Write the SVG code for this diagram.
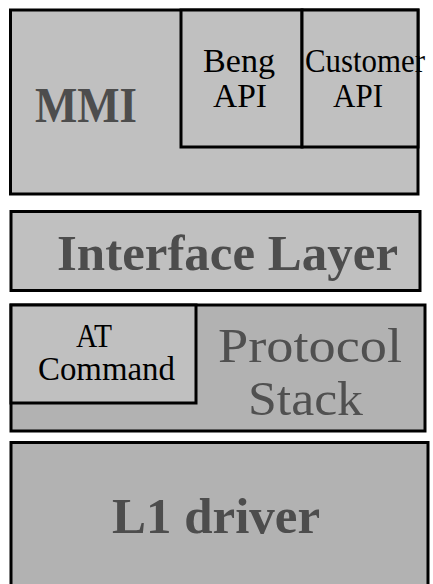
<svg xmlns="http://www.w3.org/2000/svg" width="433" height="584" viewBox="0 0 433 584">
<style>
.box{stroke:#000;stroke-width:3}
.l1{fill:#C0C0C0}
.l2{fill:#B2B2B2}
.big{font-family:"Liberation Serif",serif;font-weight:bold;fill:#4D4D4D;font-size:51px}
.reg{font-family:"Liberation Serif",serif;fill:#505050;font-size:49px}
.small{font-family:"Liberation Serif",serif;fill:#000;font-size:33px}
</style>
<rect width="433" height="584" fill="#fff"/>
<g id="mmi">
<rect class="box l1" x="10.5" y="10" width="407.5" height="184"/>
<text class="big" x="35" y="122" textLength="102" lengthAdjust="spacingAndGlyphs">MMI</text>
</g>
<g id="beng-api">
<rect class="box l1" x="181" y="10" width="121" height="137"/>
<text class="small" x="203" y="72" textLength="72" lengthAdjust="spacingAndGlyphs">Beng</text>
<text class="small" x="213" y="107" textLength="54" lengthAdjust="spacingAndGlyphs">API</text>
</g>
<g id="customer-api">
<rect class="box l1" x="302" y="10" width="116" height="137"/>
<text class="small" x="305" y="72" textLength="120" lengthAdjust="spacingAndGlyphs">Customer</text>
<text class="small" x="333" y="107" textLength="50" lengthAdjust="spacingAndGlyphs">API</text>
</g>
<g id="interface-layer">
<rect class="box l1" x="11" y="211.5" width="409" height="79"/>
<text class="big" x="57" y="270" textLength="341" lengthAdjust="spacingAndGlyphs">Interface Layer</text>
</g>
<g id="protocol-stack">
<rect class="box l2" x="11" y="305" width="414" height="126"/>
<text class="reg" x="218" y="362" textLength="184" lengthAdjust="spacingAndGlyphs">Protocol</text>
<text class="reg" x="248" y="415" textLength="115" lengthAdjust="spacingAndGlyphs">Stack</text>
</g>
<g id="at-command">
<rect class="box l1" x="11" y="305" width="185" height="98"/>
<text class="small" x="76" y="347" textLength="36" lengthAdjust="spacingAndGlyphs">AT</text>
<text class="small" x="38" y="380" textLength="137" lengthAdjust="spacingAndGlyphs">Command</text>
</g>
<g id="l1-driver">
<rect class="box l2" x="11" y="442.5" width="417" height="150"/>
<text class="big" x="112" y="533" textLength="208" lengthAdjust="spacingAndGlyphs">L1 driver</text>
</g>
<g id="connectors"></g>
</svg>
